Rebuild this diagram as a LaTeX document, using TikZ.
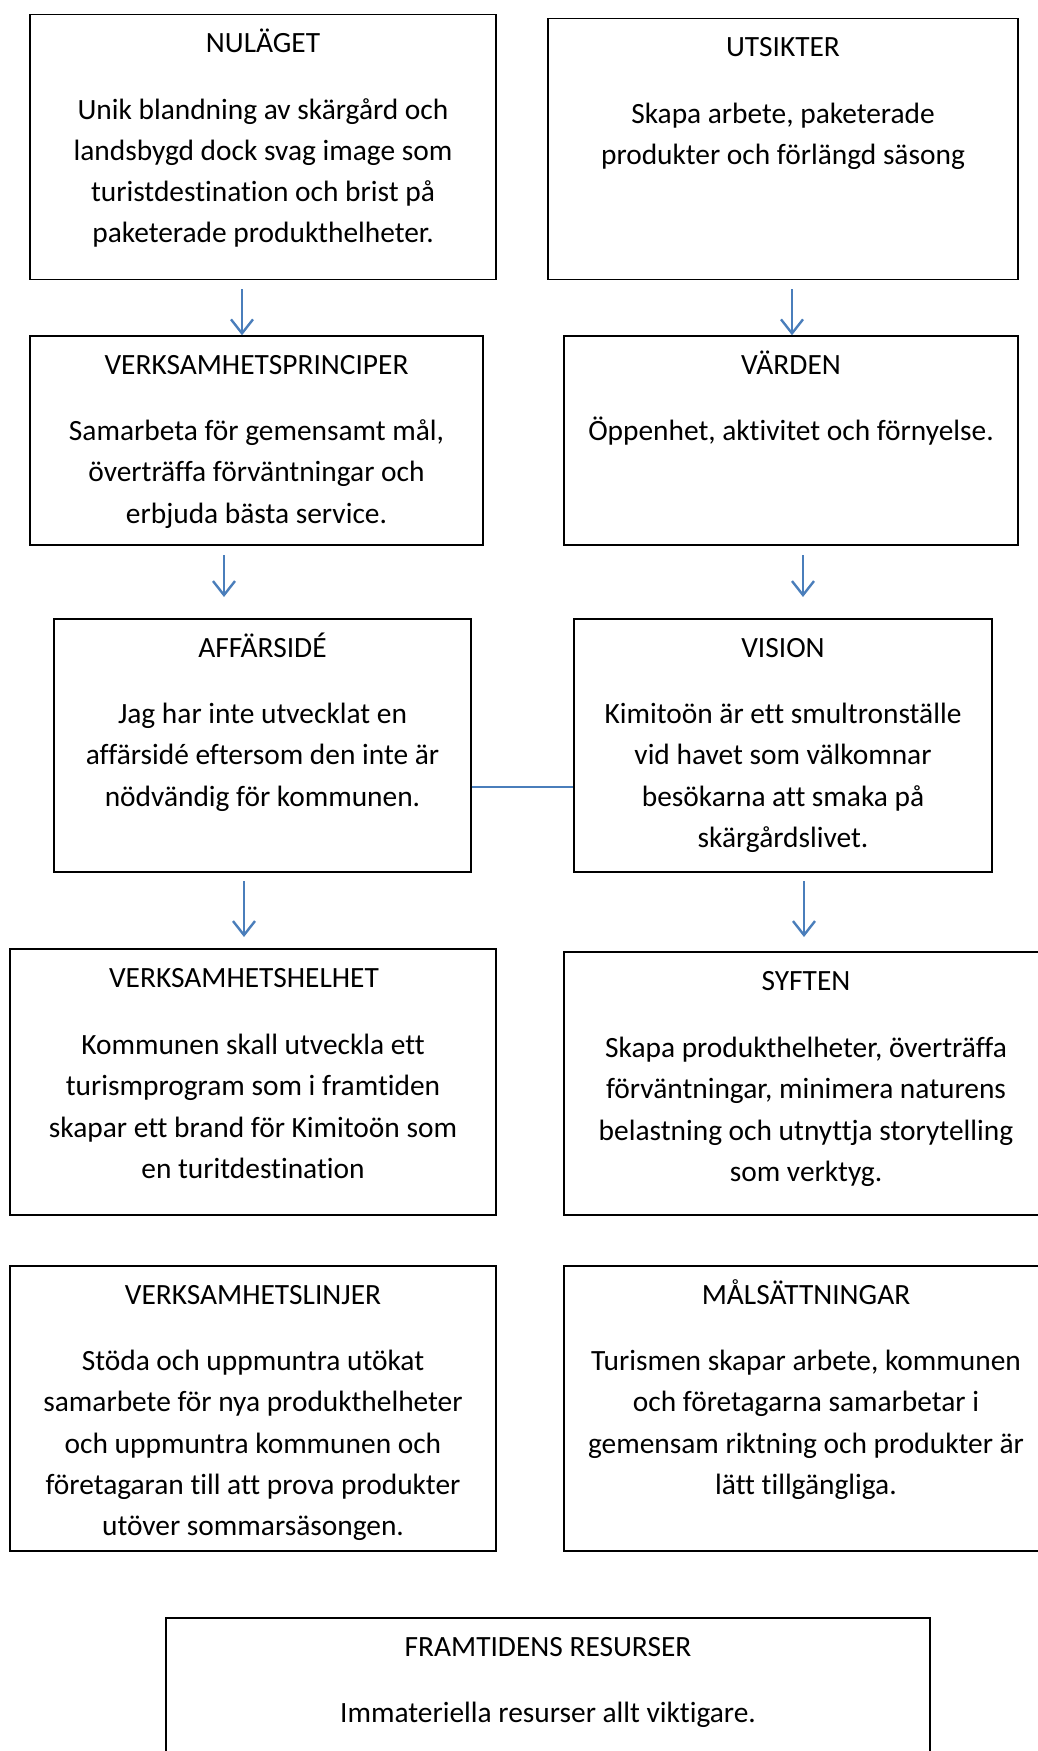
\documentclass[tikz,border=0pt]{standalone}
\usepackage{fontspec}
\setmainfont{Carlito}[Ligatures=NoCommon]
\usetikzlibrary{arrows.meta}

\definecolor{wordblue}{RGB}{74,126,187}
% fixed height for the first line of a body text
\newcommand{\topp}{\rule{0pt}{30pt}}

\tikzset{
  ruta/.style={draw,line width=1.4pt,inner sep=0pt},
  rubrik/.style={anchor=base,font=\fontsize{29.4}{41}\selectfont},
  brodtext/.style={anchor=north,align=center,inner sep=0pt,font=\fontsize{29.4}{41.3}\selectfont},
  pil/.style={wordblue,line width=2.4pt,-{Straight Barb[length=14pt,width=22pt]}},
  linje/.style={wordblue,line width=2.2pt}
}

\begin{document}
\begin{tikzpicture}[x=1pt,y=-1pt]
\useasboundingbox (0,0) rectangle (1038,1751);
\clip (0,0) rectangle (1038,1751);

% Boxes
\node[ruta,minimum width=466pt,minimum height=265pt] (nulaget) at (263,147) {};
\node[ruta,minimum width=470pt,minimum height=261pt] (utsikter) at (783,149) {};
\node[ruta,minimum width=453pt,minimum height=209pt] (principer) at (256.5,440.5) {};
\node[ruta,minimum width=454pt,minimum height=209pt] (varden) at (791,440.5) {};
\node[ruta,minimum width=417pt,minimum height=253pt] (affarside) at (262.5,745.5) {};
\node[ruta,minimum width=418pt,minimum height=253pt] (vision) at (783,745.5) {};
\node[ruta,minimum width=486pt,minimum height=266pt] (helhet) at (253,1082) {};
\node[ruta,minimum width=484pt,minimum height=263pt] (syften) at (806,1083.5) {};
\node[ruta,minimum width=486pt,minimum height=285pt] (linjer) at (253,1408.5) {};
\node[ruta,minimum width=484pt,minimum height=285pt] (malsattn) at (806,1408.5) {};
\node[ruta,minimum width=764pt,minimum height=200pt] (resurser) at (548,1718) {};

% Titles
\node[rubrik] (nulaget-t) at ([yshift=-39pt]nulaget.north) {NULÄGET};
\node[rubrik] (utsikter-t) at ([yshift=-39pt]utsikter.north) {UTSIKTER};
\node[rubrik] (principer-t) at ([yshift=-39pt]principer.north) {VERKSAMHETSPRINCIPER};
\node[rubrik] (varden-t) at ([yshift=-39pt]varden.north) {VÄRDEN};
\node[rubrik] (affarside-t) at ([yshift=-39pt]affarside.north) {AFFÄRSIDÉ};
\node[rubrik] (vision-t) at ([yshift=-39pt]vision.north) {VISION};
\node[rubrik] (helhet-t) at ([xshift=-9pt,yshift=-39pt]helhet.north) {VERKSAMHETSHELHET};
\node[rubrik] (syften-t) at ([yshift=-39pt]syften.north) {SYFTEN};
\node[rubrik] (linjer-t) at ([yshift=-39pt]linjer.north) {VERKSAMHETSLINJER};
\node[rubrik] (malsattn-t) at ([yshift=-39pt]malsattn.north) {MÅLSÄTTNINGAR};
\node[rubrik] (resurser-t) at ([yshift=-39pt]resurser.north) {FRAMTIDENS RESURSER};

% Body text
\node[brodtext] (nulaget-b) at ([yshift=-75pt]nulaget.north)
  {\topp Unik blandning av skärgård och\\landsbygd dock svag image som\\turistdestination och brist på\\paketerade produkthelheter.};
\node[brodtext] (utsikter-b) at ([yshift=-75pt]utsikter.north)
  {\topp Skapa arbete, paketerade\\produkter och förlängd säsong};
\node[brodtext] (principer-b) at ([yshift=-75pt]principer.north)
  {\topp Samarbeta för gemensamt mål,\\överträffa förväntningar och\\erbjuda bästa service.};
\node[brodtext] (varden-b) at ([yshift=-75pt]varden.north)
  {\topp Öppenhet, aktivitet och förnyelse.};
\node[brodtext] (affarside-b) at ([yshift=-75pt]affarside.north)
  {\topp Jag har inte utvecklat en\\affärsidé eftersom den inte är\\nödvändig för kommunen.};
\node[brodtext] (vision-b) at ([yshift=-75pt]vision.north)
  {\topp Kimitoön är ett smultronställe\\vid havet som välkomnar\\besökarna att smaka på\\skärgårdslivet.};
\node[brodtext] (helhet-b) at ([yshift=-76pt]helhet.north)
  {\topp Kommunen skall utveckla ett\\turismprogram som i framtiden\\skapar ett brand för Kimitoön som\\en turitdestination};
\node[brodtext] (syften-b) at ([yshift=-76pt]syften.north)
  {\topp Skapa produkthelheter, överträffa\\förväntningar, minimera naturens\\belastning och utnyttja storytelling\\som verktyg.};
\node[brodtext] (linjer-b) at ([yshift=-75pt]linjer.north)
  {\topp Stöda och uppmuntra utökat\\samarbete för nya produkthelheter\\och uppmuntra kommunen och\\företagaran till att prova produkter\\utöver sommarsäsongen.};
\node[brodtext] (malsattn-b) at ([yshift=-75pt]malsattn.north)
  {\topp Turismen skapar arbete, kommunen\\och företagarna samarbetar i\\gemensam riktning och produkter är\\lätt tillgängliga.};
\node[brodtext] (resurser-b) at ([yshift=-75pt]resurser.north)
  {\topp Immateriella resurser allt viktigare.};

% Arrow starts and ends
\coordinate (p1) at (242,289);
\coordinate (p2) at (792,289);
\coordinate (p3) at (224,555);
\coordinate (p3e) at (224,597);
\coordinate (p4) at (803,555);
\coordinate (p4e) at (803,597);
\coordinate (p5) at (244,881);
\coordinate (p5e) at (244,937);
\coordinate (p6) at (804,881);
\coordinate (p6e) at (804,937);
\coordinate (mitt) at (0,787);

% Arrows
\draw[pil] (p1) -- (p1 |- principer.north);
\draw[pil] (p2) -- (p2 |- varden.north);
\draw[pil] (p3) -- (p3e);
\draw[pil] (p4) -- (p4e);
\draw[pil] (p5) -- (p5e);
\draw[pil] (p6) -- (p6e);

% Link between business idea and vision
\draw[linje] (affarside.east |- mitt) -- (vision.west |- mitt);

\end{tikzpicture}
\end{document}
